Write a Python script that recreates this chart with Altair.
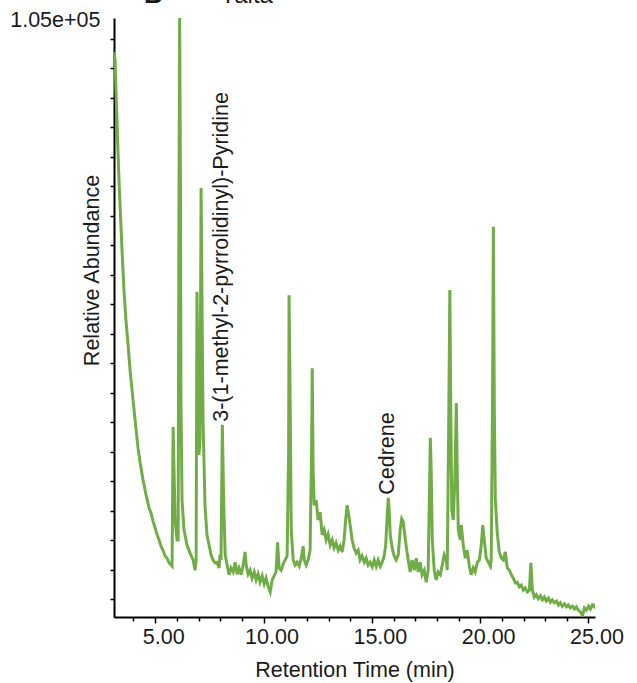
import altair as alt
import pandas as pd

# Total ion chromatogram: retention time (min) and abundance (thousands of counts)
rt_min = [
    3.10, 3.15, 3.19, 3.24, 3.28, 3.33, 3.38, 3.47, 3.56, 3.65, 3.75, 3.84, 3.98, 4.12,
    4.21, 4.30, 4.44, 4.58, 4.72, 4.81, 4.91, 5.00, 5.09, 5.18, 5.27, 5.36, 5.46, 5.55,
    5.64, 5.73, 5.78, 5.83, 5.87, 5.92, 6.01, 6.06, 6.10, 6.13, 6.17, 6.19, 6.24, 6.33,
    6.47, 6.61, 6.75, 6.84, 6.89, 6.93, 6.98, 7.02, 7.07, 7.12, 7.16, 7.21, 7.30, 7.39,
    7.49, 7.58, 7.67, 7.76, 7.85, 7.95, 7.99, 8.04, 8.10, 8.16, 8.23, 8.32, 8.41, 8.50,
    8.60, 8.69, 8.78, 8.87, 8.97, 9.06, 9.15, 9.20, 9.29, 9.38, 9.47, 9.57, 9.66, 9.75,
    9.84, 9.94, 10.03, 10.12, 10.21, 10.31, 10.40, 10.49, 10.58, 10.65, 10.72, 10.81,
    10.91, 11.00, 11.09, 11.16, 11.18, 11.23, 11.28, 11.37, 11.46, 11.55, 11.65, 11.74,
    11.83, 11.88, 11.97, 12.06, 12.15, 12.22, 12.25, 12.29, 12.34, 12.43, 12.52, 12.61,
    12.71, 12.80, 12.89, 12.98, 13.08, 13.17, 13.26, 13.35, 13.45, 13.54, 13.63, 13.72,
    13.79, 13.86, 13.93, 14.00, 14.09, 14.18, 14.28, 14.37, 14.46, 14.55, 14.65, 14.74,
    14.83, 14.92, 15.02, 15.11, 15.20, 15.29, 15.39, 15.48, 15.57, 15.64, 15.71, 15.76,
    15.80, 15.85, 15.94, 16.03, 16.12, 16.22, 16.31, 16.38, 16.45, 16.52, 16.61, 16.68,
    16.77, 16.86, 16.96, 17.05, 17.14, 17.23, 17.32, 17.42, 17.51, 17.60, 17.67, 17.70,
    17.74, 17.79, 17.88, 17.97, 18.06, 18.16, 18.25, 18.34, 18.44, 18.48, 18.55, 18.60,
    18.64, 18.69, 18.76, 18.83, 18.90, 18.94, 18.99, 19.08, 19.13, 19.22, 19.31, 19.40,
    19.50, 19.59, 19.68, 19.77, 19.87, 19.96, 20.05, 20.12, 20.19, 20.28, 20.38, 20.47,
    20.51, 20.57, 20.61, 20.65, 20.70, 20.79, 20.88, 20.98, 21.07, 21.16, 21.25, 21.35,
    21.44, 21.53, 21.62, 21.71, 21.81, 21.90, 21.99, 22.08, 22.18, 22.27, 22.34, 22.41,
    22.50, 22.59, 22.68, 22.78, 22.87, 22.96, 23.05, 23.15, 23.24, 23.33, 23.42, 23.52,
    23.61, 23.70, 23.79, 23.89, 23.98, 24.07, 24.16, 24.26, 24.35, 24.44, 24.53, 24.63,
    24.72, 24.81, 24.90, 25.00, 25.09, 25.18, 25.27, 25.31,
]
abund_k = [
    99.0, 97.6, 92.4, 87.1, 81.9, 76.6, 72.2, 64.3, 57.3, 52.1, 47.7, 43.3, 38.0, 32.8,
    29.6, 27.2, 24.0, 21.4, 19.1, 18.2, 16.7, 15.6, 14.4, 13.5, 12.4, 11.7, 10.7, 10.3,
    9.5, 9.1, 8.9, 33.3, 25.8, 17.0, 13.5, 13.5, 73.1, 105.0, 73.1, 38.0, 20.5, 15.3,
    12.6, 11.2, 10.0, 8.2, 10.0, 57.0, 41.5, 28.4, 31.0, 75.2, 55.6, 34.5, 19.6, 14.4,
    12.6, 10.9, 10.0, 9.5, 9.6, 8.6, 10.9, 10.0, 33.7, 20.5, 10.9, 9.1, 7.4, 8.6,
    7.9, 9.6, 7.5, 8.6, 7.4, 9.1, 11.4, 9.1, 7.5, 8.2, 6.8, 7.9, 6.5, 7.5,
    6.1, 7.2, 5.8, 6.8, 5.4, 4.4, 6.5, 7.2, 7.9, 13.1, 8.6, 8.2,
    9.3, 10.0, 10.7, 29.3, 56.4, 38.0, 15.3, 10.0, 9.1, 9.6, 8.9, 10.3,
    12.4, 10.0, 9.1, 10.0, 11.7, 29.3, 43.6, 25.8, 19.6, 20.5, 17.0, 18.4,
    14.4, 15.3, 13.5, 14.5, 12.6, 13.5, 12.1, 13.0, 11.7, 12.4, 11.4, 13.5,
    17.0, 19.6, 17.9, 16.1, 13.5, 12.1, 11.2, 11.7, 10.0, 10.7, 9.6, 10.3,
    9.1, 9.6, 8.8, 10.0, 8.9, 10.0, 8.9, 9.6, 10.7, 12.6, 17.9, 20.9,
    18.8, 14.4, 12.1, 10.7, 10.0, 10.9, 15.3, 17.2, 16.7, 14.4, 11.7, 10.0,
    7.9, 10.0, 8.2, 10.3, 7.9, 9.6, 7.4, 8.2, 6.1, 8.2, 24.0, 31.4,
    25.8, 13.5, 8.2, 6.5, 7.9, 7.4, 9.1, 10.9, 10.0, 8.2, 34.5, 57.3,
    38.0, 18.8, 17.0, 24.0, 37.5, 25.8, 15.3, 13.5, 16.1, 12.6, 10.3, 11.7,
    8.9, 7.4, 8.6, 7.9, 9.6, 10.0, 12.6, 16.1, 13.5, 10.3, 9.6, 8.9,
    10.0, 38.0, 68.4, 38.0, 20.5, 14.7, 11.4, 10.3, 10.0, 11.4, 8.6, 8.2,
    7.4, 6.8, 6.0, 6.1, 5.3, 5.6, 4.7, 5.1, 4.4, 4.7, 9.5, 4.7,
    3.5, 3.9, 3.2, 3.7, 3.0, 3.5, 2.8, 3.3, 2.6, 3.0, 2.5, 2.8,
    2.1, 2.5, 1.9, 2.3, 1.8, 2.1, 1.6, 1.9, 1.4, 1.8, 1.2, 0.9,
    0.2, 1.6, 1.2, 1.9, 1.4, 2.1, 1.8, 2.3,
]

# Identified compounds and the tops of their peaks
compound_names = ["3-(1-methyl-2-pyrrolidinyl)-Pyridine", "Cedrene"]
compound_rt = [8.10, 15.76]
compound_peak_k = [33.7, 20.9]

# Axis settings
x_domain = [3.1, 25.3]
y_max = 105000
x_tick_values = list(range(4, 26))
y_tick_values = [101323 - 5171 * k for k in range(20)] + [y_max]

GREEN = "#70AD47"
FONT = "Liberation Sans"
TEXT_SIZE = 21.5

trace = pd.DataFrame({"rt": rt_min, "abundance": [v * 1000 for v in abund_k]})
labels = pd.DataFrame({
    "name": compound_names,
    "rt": compound_rt,
    "abundance": [v * 1000 for v in compound_peak_k],
})

x_enc = alt.X(
    "rt:Q",
    scale=alt.Scale(domain=x_domain, nice=False, zero=False),
    axis=alt.Axis(
        title="Retention Time (min)",
        values=x_tick_values,
        labelExpr="datum.value % 5 == 0 ? format(datum.value, '.2f') : ''",
        labelOverlap=False,
        labelFlush=False,
        tickSize={"condition": {"test": "datum.value % 5 == 0", "value": 6}, "value": 4},
        labelOffset=8,
        labelPadding=3,
        titlePadding=12,
        grid=False,
    ),
)
y_enc = alt.Y(
    "abundance:Q",
    scale=alt.Scale(domain=[0, y_max], nice=False, zero=True),
    axis=alt.Axis(
        title="Relative Abundance",
        values=y_tick_values,
        labelExpr="datum.value == 105000 ? '1.05e+05' : ''",
        labelOverlap=False,
        tickOpacity={"condition": {"test": "datum.value == 105000", "value": 0}, "value": 1},
        tickSize=4,
        labelPadding=10,
        labelOffset=2,
        titleX=-22,
        titleY=252,
        titleBaseline="middle",
        titleAngle=270,
        grid=False,
    ),
)

line = alt.Chart(trace).mark_line(color=GREEN, strokeWidth=3, clip=True).encode(
    x=x_enc, y=y_enc
)

peak_text = alt.Chart(labels).mark_text(
    angle=270, align="left", baseline="middle", dx=3,
    font=FONT, fontSize=TEXT_SIZE, color="#1a1a1a",
).encode(
    x=x_enc,
    y=y_enc,
    text="name:N",
)

# Panel letter and sample name, sitting above the plot
panel_letter = alt.Chart(pd.DataFrame({"t": ["B"]})).mark_text(
    font=FONT, fontSize=26, fontWeight="bold", align="left", baseline="alphabetic", color="#1a1a1a"
).encode(x=alt.value(30), y=alt.value(-15), text="t:N")
sample_name = alt.Chart(pd.DataFrame({"t": ["Yalta"]})).mark_text(
    font=FONT, fontSize=24, align="left", baseline="alphabetic", color="#1a1a1a"
).encode(x=alt.value(106), y=alt.value(-15), text="t:N")

chart = (
    alt.layer(line, peak_text, panel_letter, sample_name)
    .properties(
        width=481,
        height=599,
        padding={"left": 114, "top": 18, "right": 42, "bottom": 66},
        autosize=alt.AutoSizeParams(type="none"),
        background="white",
    )
    .configure_view(stroke=None)
    .configure_axis(
        domainColor="black",
        domainWidth=2,
        tickColor="black",
        tickWidth=1.5,
        labelOverlap=False,
        labelFont=FONT,
        labelFontSize=TEXT_SIZE,
        labelColor="#1a1a1a",
        titleFont=FONT,
        titleFontSize=TEXT_SIZE,
        titleFontWeight="normal",
        titleColor="#1a1a1a",
    )
)

chart.save("out.html", embed_options={"renderer": "svg", "actions": False})
